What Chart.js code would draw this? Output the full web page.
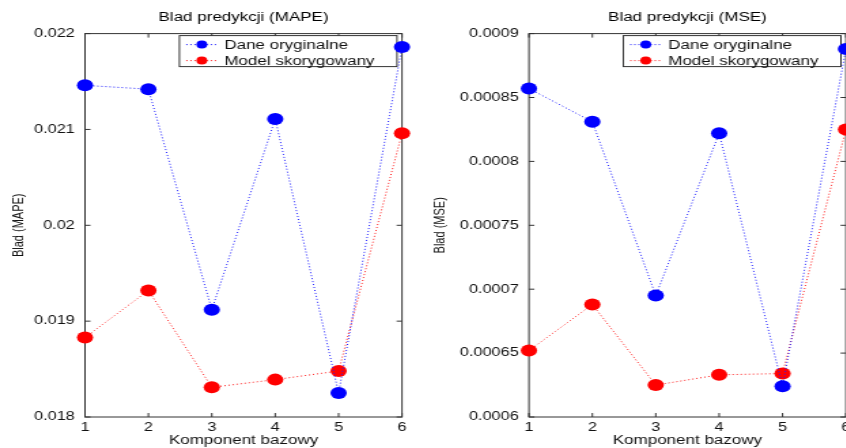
<!DOCTYPE html>
<html lang="pl">
<head>
<meta charset="UTF-8">
<title>Blad predykcji</title>
<script src="https://cdn.jsdelivr.net/npm/chart.js@4.4.0/dist/chart.umd.min.js"></script>
<style>
  html, body { margin: 0; padding: 0; background: #fff; overflow: hidden; }
  #plotno { position: relative; width: 846px; height: 448px; overflow: hidden; background: #fff; }
  canvas { position: absolute; top: 0; transform-origin: 0 0; transform: scaleX(1.36); }
  #mape { left: 0; }
  #mse { left: 420px; }
</style>
</head>
<body>
<div id="plotno">
  <canvas id="mape" width="309" height="448"></canvas>
  <canvas id="mse" width="330" height="448"></canvas>
</div>
<script>
const komponenty = ['1', '2', '3', '4', '5', '6']
const mapeOryginalne = [0.02146, 0.02142, 0.01912, 0.02111, 0.01825, 0.02186]
const mapeSkorygowany = [0.01883, 0.01932, 0.01831, 0.01839, 0.01848, 0.02096]
const mseOryginalne = [0.000857, 0.000831, 0.000695, 0.000822, 0.000624, 0.000888]
const mseSkorygowany = [0.000652, 0.000688, 0.000625, 0.000633, 0.000634, 0.000825]
const mapeTicks = [0.018, 0.019, 0.02, 0.021, 0.022]
const mseTicks = [0.0006, 0.00065, 0.0007, 0.00075, 0.0008, 0.00085, 0.0009]

const czcionka = "'Liberation Sans', Arial, Helvetica, sans-serif"

// ramka wykresu, znaczniki do srodka i legenda (styl matlaba)
const ramka = {
    id: 'ramka',
    beforeDatasetsDraw(chart) {
        const { ctx, chartArea: a, scales: { x, y } } = chart
        ctx.save()
        ctx.strokeStyle = '#333'
        ctx.lineWidth = 1
        ctx.strokeRect(a.left, a.top, a.right - a.left, a.bottom - a.top)
        ctx.beginPath()
        x.ticks.forEach((t, i) => {
            const px = x.getPixelForTick(i)
            ctx.moveTo(px, a.bottom); ctx.lineTo(px, a.bottom - 4)
            ctx.moveTo(px, a.top); ctx.lineTo(px, a.top + 4)
        })
        y.ticks.forEach((t, i) => {
            const py = y.getPixelForTick(i)
            ctx.moveTo(a.left, py); ctx.lineTo(a.left + 4, py)
            ctx.moveTo(a.right, py); ctx.lineTo(a.right - 4, py)
        })
        ctx.stroke()

        // legenda
        const w = 160, h = 31
        const lx = a.right - 3.7 - w
        const ly = a.top + 2
        ctx.fillStyle = '#fff'
        ctx.fillRect(lx, ly, w, h)
        ctx.strokeStyle = '#333'
        ctx.strokeRect(lx, ly, w, h)
        chart.data.datasets.forEach((ds, i) => {
            const cy = ly + 9 + i * 16
            ctx.strokeStyle = ds.borderColor
            ctx.setLineDash([1, 2])
            ctx.beginPath()
            ctx.moveTo(lx + 5, cy); ctx.lineTo(lx + 29, cy)
            ctx.stroke()
            ctx.setLineDash([])
            ctx.fillStyle = ds.pointBackgroundColor
            ctx.beginPath()
            ctx.arc(lx + 16.5, cy, 4, 0, Math.PI * 2)
            ctx.fill()
            ctx.fillStyle = '#111'
            ctx.font = '12.5px ' + czcionka
            ctx.textBaseline = 'middle'
            ctx.textAlign = 'left'
            ctx.fillText(ds.label, lx + 33, cy + 0.5)
        })
        ctx.restore()
    }
}

const wykres = (id, tytul, osY, oryginalne, skorygowany, podzialka, lewy, prawy, tytulPad) => {
    return new Chart(document.getElementById(id), {
        type: 'line',
        data: {
            labels: komponenty,
            datasets: [
                {
                    label: 'Dane oryginalne',
                    data: oryginalne,
                    borderColor: '#2020ff',
                    pointBackgroundColor: '#0000ff',
                    borderDash: [1, 2],
                    borderWidth: 1,
                    pointRadius: 6,
                    pointBorderWidth: 0,
                    clip: false
                },
                {
                    label: 'Model skorygowany',
                    data: skorygowany,
                    borderColor: '#ff2020',
                    pointBackgroundColor: '#ff0000',
                    borderDash: [1, 2],
                    borderWidth: 1,
                    pointRadius: 6,
                    pointBorderWidth: 0,
                    clip: false
                }
            ]
        },
        options: {
            responsive: false,
            animation: false,
            devicePixelRatio: 1,
            layout: { padding: { left: 0, right: prawy, top: 0, bottom: 0 } },
            plugins: {
                legend: { display: false },
                tooltip: { enabled: false },
                title: {
                    display: true,
                    text: tytul,
                    fullSize: false,
                    color: '#000',
                    font: { family: czcionka, size: 12.5, weight: 'normal' },
                    padding: { top: 10, bottom: 8.6 }
                }
            },
            scales: {
                x: {
                    offset: false,
                    grid: { display: false, drawTicks: false },
                    border: { display: false },
                    ticks: { color: '#111', font: { family: czcionka, size: 12 }, padding: 3, maxRotation: 0 },
                    title: {
                        display: true,
                        text: 'Komponent bazowy',
                        color: '#111',
                        font: { family: czcionka, size: 12.5 },
                        padding: { top: 0, bottom: 0 }
                    },
                    afterFit(s) { s.height = 31 }
                },
                y: {
                    min: podzialka[0],
                    max: podzialka[podzialka.length - 1],
                    afterBuildTicks(s) { s.ticks = podzialka.map(v => ({ value: v })) },
                    grid: { display: false, drawTicks: false },
                    border: { display: false },
                    ticks: { color: '#111', font: { family: czcionka, size: 12 }, padding: 7.5, callback: v => String(v) },
                    title: {
                        display: true,
                        text: osY,
                        color: '#111',
                        font: { family: czcionka, size: 11 },
                        padding: { top: tytulPad, bottom: 0 }
                    },
                    afterFit(s) { s.width = lewy }
                }
            }
        },
        plugins: [ramka]
    })
}

wykres('mape', 'Blad predykcji (MAPE)', 'Blad (MAPE)', mapeOryginalne, mapeSkorygowany, mapeTicks, 62.5, 13.4, 7.4)
wykres('mse', 'Blad predykcji (MSE)', 'Blad (MSE)', mseOryginalne, mseSkorygowany, mseTicks, 80.1, 16.8, 8.6)
</script>
</body>
</html>
